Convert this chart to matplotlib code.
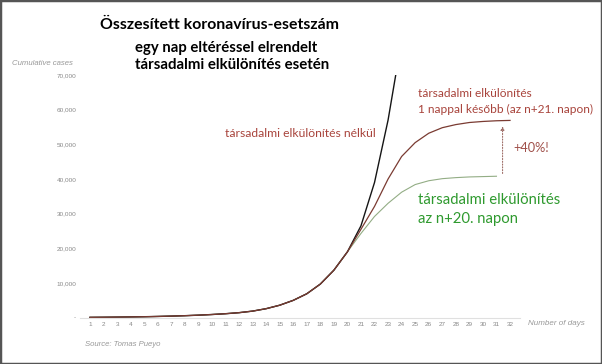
import matplotlib
matplotlib.use('Agg')
import matplotlib.pyplot as plt
from matplotlib.patches import Rectangle

# Adatok
days_black = list(range(1, 25))
cases_black = [100, 130, 170, 220, 280, 360, 460, 580, 730, 920, 1150, 1450,
               1900, 2600, 3600, 5000, 6900, 9700, 13700, 19000, 26500, 39000,
               57000, 80000]

days_red = list(range(1, 33))
cases_red = cases_black[:20] + [25500, 32100, 40000, 46500, 50500, 53200,
                                54800, 55700, 56300, 56600, 56800, 56900]

days_green = list(range(1, 32))
cases_green = cases_black[:20] + [24300, 29200, 33000, 36200, 38400, 39500,
                                  40100, 40400, 40600, 40700, 40800]

yticks = [0, 10000, 20000, 30000, 40000, 50000, 60000, 70000]
ytick_labels = ['-', '10,000', '20,000', '30,000', '40,000', '50,000',
                '60,000', '70,000']

arrow_day = 31.45
arrow_from = 40800
arrow_to = 56000

W, H = 602, 364
fig = plt.figure(figsize=(W / 100, H / 100), dpi=100)
ax = fig.add_axes([80.5 / W, 1 - 317.7 / H, 439 / W, 242.7 / H])

ax.plot(days_green, cases_green, color='#93ad85', lw=0.8)
ax.plot(days_black, cases_black, color='#151515', lw=1.0)
ax.plot(days_red, cases_red, color='#7a3b32', lw=0.9)

ax.set_xlim(0.3, 32.7)
ax.set_ylim(0, 70000)
for s in ['top', 'right', 'left']:
    ax.spines[s].set_visible(False)
ax.spines['bottom'].set_color('#e0e0e0')
ax.spines['bottom'].set_linewidth(0.8)

ax.set_xticks(days_red)
ax.set_xticklabels([str(d) for d in days_red])
ax.set_yticks(yticks)
ax.set_yticklabels(ytick_labels)
ax.tick_params(length=0, labelsize=4.6, labelcolor='#888888', pad=3)
for lab in ax.get_xticklabels() + ax.get_yticklabels():
    lab.set_family('Liberation Sans')

# Nyíl a két görbe között
ax.annotate('', xy=(arrow_day, arrow_to), xytext=(arrow_day, arrow_from),
            arrowprops=dict(arrowstyle='-|>', color='#a0706a', lw=0.8,
                            linestyle=(0, (1, 1.5)), mutation_scale=5))


def px_text(x, y, s, **kw):
    fig.text(x / W, 1 - y / H, s, **kw)


# Címek
px_text(100, 29, 'Összesített koronavírus-esetszám', family='Lato',
        weight='bold', fontsize=11.4, va='baseline')
px_text(135, 52, 'egy nap eltéréssel elrendelt', family='Lato',
        weight='bold', fontsize=10.7, va='baseline')
px_text(135, 69, 'társadalmi elkülönítés esetén', family='Lato',
        weight='bold', fontsize=10.8, va='baseline')

# Görbe feliratok
red = '#a8433b'
px_text(225, 137, 'társadalmi elkülönítés nélkül', family='Lato',
        fontsize=8.7, color=red, va='baseline')
px_text(418, 97, 'társadalmi elkülönítés', family='Lato',
        fontsize=8.6, color=red, va='baseline')
px_text(418, 113, '1 nappal később (az n+21. napon)', family='Lato',
        fontsize=8.6, color=red, va='baseline')
px_text(513, 152, '+40%!', family='Lato', fontsize=9.2, color='#a0504a',
        va='baseline')
green = '#2f9a2f'
px_text(418, 204, 'társadalmi elkülönítés', family='Lato',
        fontsize=10.7, color=green, va='baseline')
px_text(418, 223, 'az n+20. napon', family='Lato',
        fontsize=10.7, color=green, va='baseline')

# Tengelyfeliratok, forrás
grey = '#999999'
px_text(12, 65, 'Cumulative cases', family='Liberation Sans', style='italic',
        fontsize=5.6, color=grey, va='baseline')
px_text(528, 325, 'Number of days', family='Liberation Sans', style='italic',
        fontsize=5.8, color=grey, va='baseline')
px_text(85, 346, 'Source: Tomas Pueyo', family='Liberation Sans',
        style='italic', fontsize=5.6, color=grey, va='baseline')

# Keret
fig.patches.append(Rectangle((0, 0), 1, 1, transform=fig.transFigure,
                             fill=False, edgecolor='#555555', lw=2.5))

fig.savefig('out.png', dpi=100)
